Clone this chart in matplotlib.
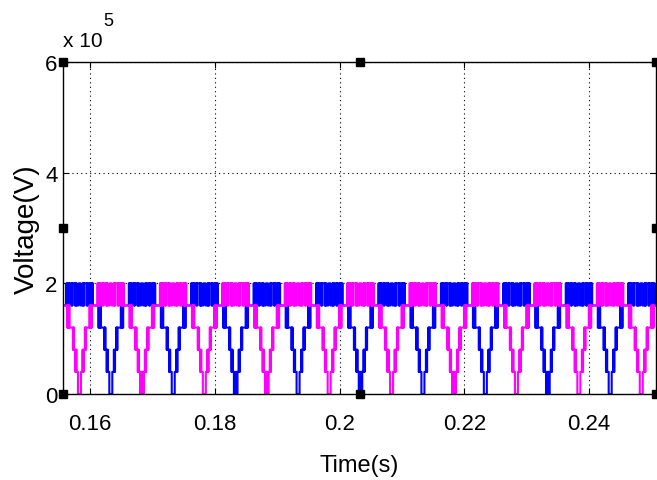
import matplotlib
matplotlib.use("Agg")
import matplotlib.pyplot as plt
import numpy as np

plt.rcParams['font.family'] = ['Liberation Sans', 'DejaVu Sans']

# --- data ---
period = 0.01            # s, one rectified cycle
level_step = 0.4e5       # V per level
blue_first_min = 0.15336
magenta_first_min = 0.15834
# bottom shape of each cycle: 'F' = chopped (filled), 'U' = single notch
blue_bottom = ['U', 'U', 'U', 'F', 'U', 'F', 'U', 'U', 'F', 'U', 'U']
magenta_bottom = ['U', 'F', 'U', 'F', 'U', 'U', 'F', 'U', 'U', 'U', 'U']

# half cycle switching pattern: time from the minimum (ms) and level index
bottom_times = {'F': [0.0, 0.056, 0.112, 0.168, 0.224, 0.28],
                'U': [0.0, 0.24]}
bottom_levels = {'F': [0, 1, 0, 1, 0, 1],
                 'U': [0, 1]}
upper_times = [0.48, 0.528, 0.576, 0.624, 0.672,
               0.864, 0.912, 0.96, 1.008, 1.056,
               1.6, 1.664, 1.728, 1.792, 1.856, 1.92, 1.984,
               2.88, 2.928, 3.04, 3.088,
               3.136, 3.184, 3.232, 3.28, 3.328,
               3.68, 3.744, 3.808, 3.872,
               4.256, 4.32, 4.384, 4.448, 4.512, 4.832]
upper_levels = [2, 1, 2, 1, 2,
                3, 2, 3, 2, 3,
                4, 3, 4, 3, 4, 3, 4,
                5, 4, 5, 4,
                5, 4, 5, 4, 5,
                4, 5, 4, 5,
                4, 5, 4, 5, 4, 5]


def build_wave(first_min, bottoms):
    half = period / 2
    xs, ys = [], []
    for k, b in enumerate(bottoms):
        tm = first_min + k * period
        d = np.array(bottom_times[b] + upper_times) / 1000.0
        lv = np.array(bottom_levels[b] + upper_levels)
        ends = np.append(d[1:], half)
        xs.append(tm - ends[::-1])
        ys.append(lv[::-1])
        xs.append(tm + d[1:])
        ys.append(lv[1:])
    x = np.concatenate(xs)
    y = np.concatenate(ys) * level_step
    x = np.append(x, first_min + len(bottoms) * period - half)
    y = np.append(y, y[-1])
    return x, y


bx, by = build_wave(blue_first_min, blue_bottom)
mx, my = build_wave(magenta_first_min, magenta_bottom)

fig = plt.figure(figsize=(6.57, 4.81), dpi=100)
ax = fig.add_axes([63 / 657, 86 / 481, 593 / 657, 332 / 481])

ax.step(bx, by, where='post', color=(0, 0, 1), lw=1.5)
ax.step(mx, my, where='post', color=(1, 0, 1), lw=1.5)

ax.set_xlim(0.1557, 0.2507)
ax.set_ylim(0, 6e5)
ax.set_xticks([0.16, 0.18, 0.2, 0.22, 0.24])
ax.set_xticklabels(['0.16', '0.18', '0.2', '0.22', '0.24'])
ax.set_yticks([0, 2e5, 4e5, 6e5])
ax.set_yticklabels(['0', '2', '4', '6'])
ax.tick_params(direction='in', length=4, width=0.8, top=True, right=True,
               labelsize=16, colors='black')
ax.tick_params(axis='x', pad=14)
ax.tick_params(axis='y', pad=4)
ax.grid(True, color='black', linestyle=(0, (1, 3)), lw=0.8)
for s in ax.spines.values():
    s.set_linewidth(1.0)

ax.set_xlabel('Time(s)', fontsize=17, labelpad=14)
ax.set_ylabel('Voltage(V)', fontsize=20, labelpad=4)

ax.text(0.0, 1.035, 'x 10', transform=ax.transAxes, fontsize=15,
        ha='left', va='bottom')
ax.text(0.068, 1.098, '5', transform=ax.transAxes, fontsize=13,
        ha='left', va='bottom')

# figure selection handles
hx = [0, 0.5, 1, 0, 1, 0, 0.5, 1]
hy = [1, 1, 1, 0.5, 0.5, 0, 0, 0]
ax.plot(hx, hy, 's', color='black', ms=6, transform=ax.transAxes,
        clip_on=False, zorder=10)

fig.savefig('out.png', dpi=100)
